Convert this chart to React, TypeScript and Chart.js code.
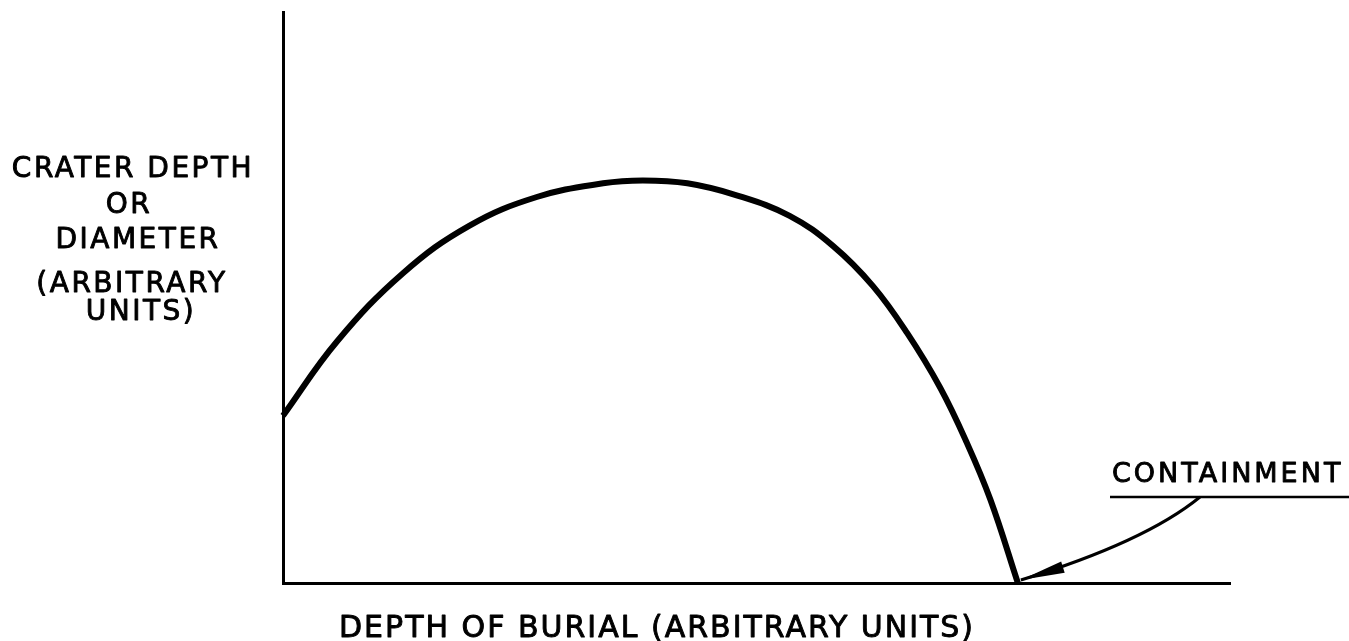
import React, { useEffect, useRef } from "react";
import { Chart, registerables } from "chart.js";

Chart.register(...registerables);

// Depth of burial (arbitrary units, 0–100 across the axis)
const burialDepth = [0, 5.7, 12.7, 19.7, 26.8, 33.8, 38.0, 42.7, 47.9, 53.5, 58.1, 62.3, 65.9, 69.4, 72.2, 74.7, 77.6];
// Crater depth or diameter (arbitrary units)
const craterSize = [29.3, 42.3, 54.3, 62.6, 67.6, 70.0, 70.5, 70.0, 67.9, 64.3, 59.0, 52.0, 43.8, 34.2, 24.6, 14.6, 0];

const yLabelLines = ["CRATER DEPTH", "OR", "DIAMETER", "(ARBITRARY", "UNITS)"];
const xLabel = "DEPTH OF BURIAL (ARBITRARY UNITS)";
const annotationLabel = "CONTAINMENT";

const FONT = '"DejaVu Sans", sans-serif';

function boldText(ctx: CanvasRenderingContext2D, t: string, x: number, y: number) {
  ctx.fillText(t, x, y);
  ctx.lineWidth = 0.9;
  ctx.strokeText(t, x, y);
}

const labelsPlugin = {
  id: "labelsPlugin",
  afterDraw(chart: any) {
    const ctx = chart.ctx as CanvasRenderingContext2D;
    const xs = chart.scales.x;
    const ys = chart.scales.y;
    ctx.save();
    ctx.fillStyle = "#000";
    ctx.strokeStyle = "#000";
    ctx.lineJoin = "round";

    // Y axis label block
    ctx.font = `28px ${FONT}`;
    (ctx as any).letterSpacing = "2.5px";
    ctx.textAlign = "center";
    ctx.textBaseline = "alphabetic";
    const yCenters = [133, 129, 138, 132, 141];
    const yBases = [177, 213, 248, 292, 320];
    yLabelLines.forEach((t, i) => boldText(ctx, t, yCenters[i], yBases[i]));

    // X axis label
    ctx.font = `30px ${FONT}`;
    (ctx as any).letterSpacing = "2px";
    ctx.textAlign = "left";
    boldText(ctx, xLabel, 339, 637);

    // Containment annotation
    ctx.font = `27px ${FONT}`;
    (ctx as any).letterSpacing = "3px";
    boldText(ctx, annotationLabel, 1112, 482);
    ctx.lineWidth = 2.5;
    ctx.beginPath();
    ctx.moveTo(1110, 497);
    ctx.lineTo(1349, 497);
    ctx.stroke();

    // Arrow to the point where the curve meets the axis
    const n = burialDepth.length - 1;
    const tx = xs.getPixelForValue(burialDepth[n]) + 3;
    const ty = ys.getPixelForValue(craterSize[n]) - 3;
    const sx = 1200, sy = 497;
    const cx = 1145, cy = 542;
    ctx.lineWidth = 3;
    ctx.beginPath();
    ctx.moveTo(sx, sy);
    ctx.quadraticCurveTo(cx, cy, tx, ty);
    ctx.stroke();
    const ang = Math.atan2(ty - cy, tx - cx);
    const len = 44, hw = 6;
    const bx = tx - len * Math.cos(ang);
    const by = ty - len * Math.sin(ang);
    ctx.beginPath();
    ctx.moveTo(tx, ty);
    ctx.lineTo(bx + hw * Math.sin(ang), by - hw * Math.cos(ang));
    ctx.lineTo(bx - hw * Math.sin(ang), by + hw * Math.cos(ang));
    ctx.closePath();
    ctx.fill();
    ctx.restore();
  },
};

export default function App() {
  const ref = useRef<HTMLCanvasElement>(null);
  useEffect(() => {
    if (!ref.current) return;
    const chart = new Chart(ref.current, {
      type: "line",
      data: {
        datasets: [
          {
            data: burialDepth.map((x, i) => ({ x, y: craterSize[i] })),
            borderColor: "#000",
            borderWidth: 6,
            pointRadius: 0,
            tension: 0.4,
            fill: false,
            clip: false as any,
          },
        ],
      },
      options: {
        responsive: false,
        animation: false,
        layout: { padding: { left: 283, top: 12, right: 119, bottom: 58 } },
        plugins: { legend: { display: false }, tooltip: { enabled: false } },
        scales: {
          x: {
            type: "linear",
            min: 0,
            max: 100,
            grid: { display: false, drawTicks: false },
            ticks: { display: false },
            border: { display: true, color: "#000", width: 3 },
          },
          y: {
            type: "linear",
            min: 0,
            max: 100,
            grid: { display: false, drawTicks: false },
            ticks: { display: false },
            border: { display: true, color: "#000", width: 3 },
          },
        },
      },
      plugins: [labelsPlugin],
    });
    return () => chart.destroy();
  }, []);
  return (
    <div style={{ position: "fixed", left: 0, top: 0, width: 1349, height: 641, background: "#fff" }}>
      <canvas ref={ref} width={1349} height={641} style={{ display: "block" }} />
    </div>
  );
}
